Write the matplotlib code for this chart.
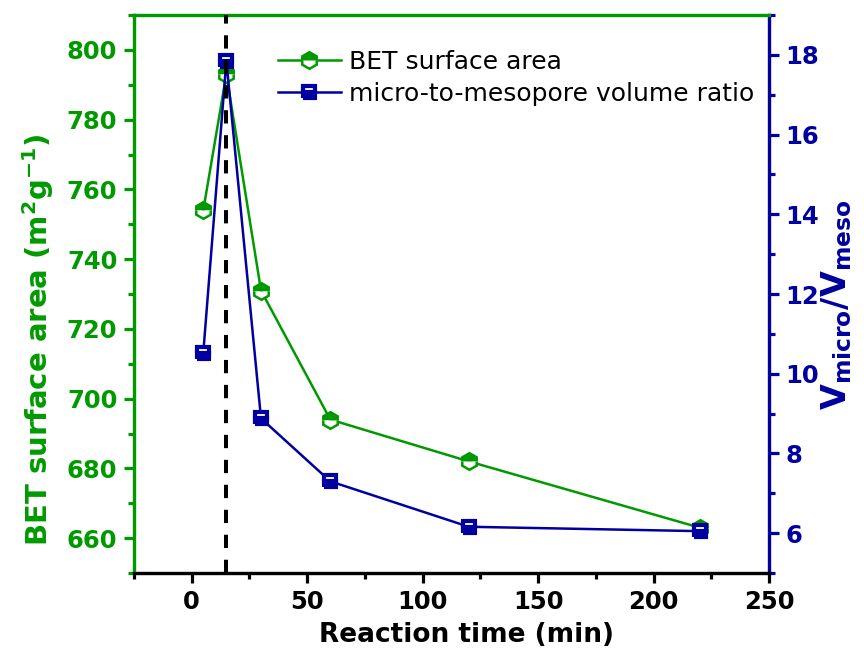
import matplotlib
matplotlib.use("Agg")
import matplotlib.pyplot as plt
from matplotlib.ticker import MultipleLocator

plt.rcParams['font.family'] = ['DejaVu Sans']
plt.rcParams['mathtext.fontset'] = 'custom'
plt.rcParams['mathtext.rm'] = 'DejaVu Sans:bold'
plt.rcParams['mathtext.it'] = 'DejaVu Sans:bold'
plt.rcParams['mathtext.bf'] = 'DejaVu Sans:bold'

time_min = [5, 15, 30, 60, 120, 220]
bet_area = [754, 793, 731, 694, 682, 663]
ratio = [10.52, 17.85, 8.88, 7.3, 6.16, 6.05]
peak_time = 15

green = '#009A00'
navy = '#0000A0'

fig = plt.figure(figsize=(8.64, 6.56), dpi=100)
ax = fig.add_axes([134/864, 1-573/656, (769-134)/864, (573-15)/656])
ax2 = ax.twinx()

l1, = ax.plot(time_min, bet_area, color=green, lw=1.8, marker='h', ms=12,
              fillstyle='top', markerfacecolor=green, markerfacecoloralt='white',
              markeredgecolor=green, markeredgewidth=1.8, label='BET surface area')
l2, = ax2.plot(time_min, ratio, color=navy, lw=1.8, marker='s', ms=8,
               fillstyle='bottom', markerfacecolor=navy, markerfacecoloralt='white',
               markeredgecolor=navy, markeredgewidth=3.0, label='micro-to-mesopore volume ratio')
ax2.axvline(peak_time, color='black', lw=2.9, ls=(0, (3.3, 2.9)), zorder=5)

ax.set_xlim(-25, 250)
ax.set_ylim(650, 810)
ax2.set_ylim(5, 19)

ax.xaxis.set_major_locator(MultipleLocator(50))
ax.xaxis.set_minor_locator(MultipleLocator(25))
ax.yaxis.set_major_locator(MultipleLocator(20))
ax.yaxis.set_minor_locator(MultipleLocator(10))
ax2.yaxis.set_major_locator(MultipleLocator(2))
ax2.yaxis.set_minor_locator(MultipleLocator(1))

for a in (ax, ax2):
    for s in a.spines.values():
        s.set_linewidth(2.3)
ax.spines['left'].set_color(green)
ax.spines['top'].set_color(green)
ax2.spines['top'].set_color(green)
ax.spines['bottom'].set_color('black')
ax2.spines['bottom'].set_color('black')
ax2.spines['right'].set_color(navy)
ax2.spines['left'].set_color(green)

ax.tick_params(axis='x', which='both', direction='out', colors='black', width=2.3, labelsize=17.5, pad=5)
ax.tick_params(axis='x', which='major', length=7)
ax.tick_params(axis='x', which='minor', length=4)
ax.tick_params(axis='y', which='both', direction='out', colors=green, width=2.3, labelsize=17.5, pad=5)
ax.tick_params(axis='y', which='major', length=7)
ax.tick_params(axis='y', which='minor', length=4)
ax2.tick_params(axis='y', which='both', direction='out', colors=navy, width=2.3, labelsize=17.5, pad=5)
ax2.tick_params(axis='y', which='major', length=7)
ax2.tick_params(axis='y', which='minor', length=4)

for lab in ax.get_xticklabels() + ax.get_yticklabels() + ax2.get_yticklabels():
    lab.set_fontweight('bold')

ax.set_xlabel('Reaction time (min)', fontsize=19, fontweight='bold', labelpad=6)
ax.xaxis.label.set_x(0.523)
ax.set_ylabel(r'BET surface area (m$^{2}$g$^{-1}$)', fontsize=21, fontweight='bold', color=green, labelpad=8)
ax.yaxis.label.set_y(0.4176)
ax2.set_ylabel(r'V$_{micro}$/V$_{meso}$', fontsize=24, fontweight='bold', color=navy, labelpad=0)
ax2.yaxis.label.set_y(0.48)

leg = ax2.legend(handles=[l1, l2], loc='upper left', bbox_to_anchor=(0.2268, 0.937),
                 frameon=False, fontsize=18, handlelength=2.5, handletextpad=0.35,
                 labelspacing=0.32, borderaxespad=0, borderpad=0)

fig.savefig('out.png', dpi=100)
